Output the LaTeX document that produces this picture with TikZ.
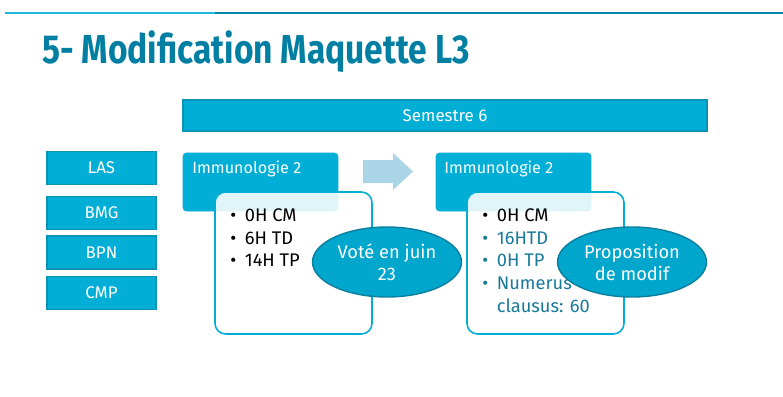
\documentclass[tikz,border=0pt]{standalone}
\usepackage{fontspec}
\setmainfont{Fira Sans}
\usetikzlibrary{shapes.geometric}
\definecolor{cyanfill}{HTML}{00AED6}
\definecolor{cyanline}{HTML}{0A93B5}
\definecolor{ovalfill}{HTML}{00A6CC}
\definecolor{ovalline}{HTML}{0B7FA0}
\definecolor{titleblue}{HTML}{007FA3}
\definecolor{ruleleft}{HTML}{1BB8E0}
\definecolor{ruleright}{HTML}{0085A8}
\definecolor{arrowblue}{HTML}{A9D5E7}
\definecolor{newtext}{HTML}{1A7A9A}
\tikzset{
 tag/.style={draw=cyanline,fill=cyanfill,text=white,line width=0.8pt,
   font=\fontsize{9.6}{11}\selectfont,minimum width=2.18cm,minimum height=0.66cm,inner sep=0pt},
 header/.style={draw=cyanfill,fill=cyanfill,rounded corners=2pt,
   minimum width=3.1cm,minimum height=1.16cm,inner sep=0pt},
 headtext/.style={text=white,font=\fontsize{9.2}{11}\selectfont,anchor=north west,inner sep=0pt},
 card/.style={draw=cyanfill,fill=white,fill opacity=0.88,line width=0.9pt,rounded corners=6pt,
   minimum width=3.14cm,minimum height=2.84cm,inner sep=0pt},
 list/.style={anchor=north west,align=left,inner sep=0pt,font=\fontsize{10.4}{13}\selectfont},
 oval/.style={ellipse,draw=ovalline,fill=ovalfill,text=white,line width=0.8pt,
   minimum width=2.98cm,minimum height=1.4cm,inner sep=0pt,align=center,
   font=\fontsize{10.4}{12.5}\selectfont}
}
\newcommand{\bul}{\makebox[0.29cm][l]{\textbullet}}
\begin{document}
\begin{tikzpicture}[x=0.02cm,y=-0.02cm]
 \useasboundingbox (0,0) rectangle (783,396);
 % top rule
 \draw [ruleleft,line width=1.2pt] (5,13) -- (215,13);
 \draw [ruleright,line width=1.2pt] (215,13) -- (783,13);
 % title
 \node (title) [anchor=base west,inner sep=0pt,text=titleblue,xscale=0.83,
   font=\fontsize{23}{26}\selectfont\bfseries] at (42,63) {5- Modification Maquette L3};
 % semester bar
 \node (sem) [tag,minimum width=10.48cm,minimum height=0.62cm] at (445,115.5) {Semestre 6};
 % tracks
 \node (las) [tag] at (101.5,168) {LAS};
 \node (bmg) [tag] at (101.5,213) {BMG};
 \node (bpn) [tag] at (101.5,252.5) {BPN};
 \node (cmp) [tag] at (101.5,293) {CMP};
 % before
 \node (head1) [header] at (260.5,182) {};
 \node (name1) [headtext] at (192,161) {Immunologie 2};
 \node (card1) [card] at (293.5,263) {};
 \node (list1) [list] at (230,208) {\bul 0H CM\\ \bul 6H TD\\ \bul 14H TP};
 \node (vote) [oval] at (387,262) {Voté en juin\\23};
 % arrow
 \fill [arrowblue] (363,160) -- (393,160) -- (393,153) -- (413,171.5)
   -- (393,190) -- (393,183) -- (363,183) -- cycle;
 % after
 \node (head2) [header] at (513.5,182) {};
 \node (name2) [headtext] at (444,161) {Immunologie 2};
 \node (card2) [card] at (545.5,263) {};
 \node (list2) [list] at (482,208) {\bul 0H CM\\
   \textcolor{newtext}{\bul 16HTD}\\
   \textcolor{newtext}{\bul 0H TP}\\
   \textcolor{newtext}{\bul Numerus}\\
   \textcolor{newtext}{\hspace*{0.29cm}clausus: 60}};
 \node (prop) [oval] at (632,262) {Proposition\\de modif};
\end{tikzpicture}
\end{document}
